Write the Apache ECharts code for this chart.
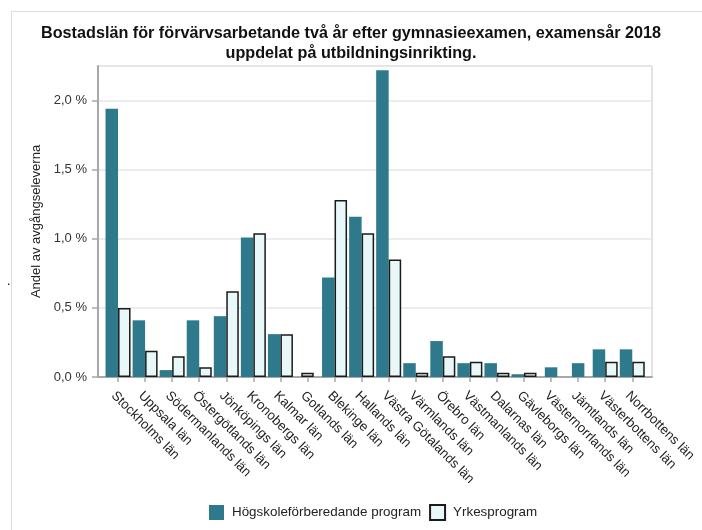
<!DOCTYPE html>
<html>
<head>
<meta charset="utf-8">
<script src="https://cdn.jsdelivr.net/npm/echarts@6/dist/echarts.min.js"></script>
<style>html,body{margin:0;padding:0;background:#fff}#c{width:702px;height:530px}</style>
</head>
<body>
<div id="c"></div>
<script>
// ---- data ----
var categories = ['Stockholms län','Uppsala län','Södermanlands län','Östergötlands län','Jönköpings län','Kronobergs län','Kalmar län','Gotlands län','Blekinge län','Hallands län','Västra Götalands län','Värmlands län','Örebro län','Västmanlands län','Dalarnas län','Gävleborgs län','Västernorrlands län','Jämtlands län','Västerbottens län','Norrbottens län'];
var hogskole = [1.94,0.41,0.05,0.41,0.44,1.01,0.31,null,0.72,1.16,2.22,0.10,0.26,0.10,0.10,0.02,0.07,0.10,0.20,0.20];
var yrke     = [0.50,0.19,0.15,0.07,0.62,1.04,0.31,0.03,1.28,1.04,0.85,0.03,0.15,0.11,0.03,0.03,null,null,0.11,0.11];
var yTicks = [0, 0.5, 1.0, 1.5, 2.0];
var seriesNames = ['Högskoleförberedande program','Yrkesprogram'];
var title = 'Bostadslän för förvärvsarbetande två år efter gymnasieexamen, examensår 2018\nuppdelat på utbildningsinrikting.';
var yName = 'Andel av avgångseleverna';

// pairs where both exist are drawn side by side; single values are centred
var hogPair = hogskole.map(function(v,i){ return (v!=null && yrke[i]!=null) ? v : null; });
var yrkPair = yrke.map(function(v,i){ return (v!=null && hogskole[i]!=null) ? v : null; });
var hogSingle = hogskole.map(function(v,i){ return (v!=null && yrke[i]==null) ? v : null; });
var yrkSingle = yrke.map(function(v,i){ return (v!=null && hogskole[i]==null) ? v : null; });

var DARK = '#2E7A8C', LIGHT = '#E8F8F8', FONT = 'Liberation Sans, Arial, sans-serif';
var YMAX = 2.25;

var chart = echarts.init(document.getElementById('c'), null, {renderer:'canvas'});
var fmt = function(v){
  for (var k=0;k<yTicks.length;k++){ if (Math.abs(yTicks[k]-v)<1e-9) return v.toFixed(1).replace('.', ',') + ' %'; }
  return '';
};
var barW = 12.5;
chart.setOption({
  animation:false,
  backgroundColor:'#fff',
  textStyle:{fontFamily:FONT},
  title:{text:title, left:'center', top:19,
    textStyle:{fontSize:16.2, fontWeight:'bold', color:'#111', lineHeight:20, fontFamily:FONT}},
  graphic:[
    {type:'rect', left:9, top:9, shape:{width:800, height:700}, style:{fill:'none', stroke:'#dcdcdc', lineWidth:1}, silent:true, z:-1},
    {type:'text', left:7, top:276, style:{text:'.', fill:'#000', font:'12px '+FONT}}
  ],
  legend:{
    left:204, top:499, itemWidth:15, itemHeight:15, itemGap:8, icon:'rect',
    textStyle:{fontSize:13.4, color:'#222', fontFamily:FONT, padding:[0,0,0,3]},
    data:seriesNames
  },
  grid:[
    {left:98, right:50, top:66, bottom:153, show:true, borderColor:'#c4c4c4', borderWidth:1},
    {left:104.5, right:56.2, top:66, bottom:153}
  ],
  xAxis:[
    {gridIndex:0, type:'value', min:0, max:1, axisLine:{show:true, lineStyle:{color:'#a8a8a8', width:2}},
      axisTick:{show:false}, axisLabel:{show:false}, splitLine:{show:false}},
    {gridIndex:1, type:'category', data:categories, position:'bottom',
      axisLine:{show:false},
      axisTick:{show:true, alignWithLabel:true, length:5, lineStyle:{color:'#a8a8a8', width:1.5}},
      axisLabel:{rotate:-45, interval:0, margin:12, verticalAlign:'top', fontSize:13.3, color:'#222', fontFamily:FONT}},
    {gridIndex:1, type:'category', data:categories, show:false}
  ],
  yAxis:[
    {gridIndex:0, type:'value', min:0, max:YMAX, interval:0.5,
      name:yName, nameLocation:'middle', nameGap:55, nameRotate:90,
      nameTextStyle:{fontSize:13, color:'#222', fontFamily:FONT},
      axisLine:{show:true, lineStyle:{color:'#a8a8a8', width:2}},
      axisTick:{show:true, length:6, lineStyle:{color:'#a8a8a8', width:1.5}},
      axisLabel:{formatter:fmt, margin:11, fontSize:13, color:'#333', fontFamily:FONT, showMaxLabel:false},
      splitLine:{show:true, lineStyle:{color:'#e6e6e6', width:1.5}}},
    {gridIndex:1, type:'value', min:0, max:YMAX, show:false, splitLine:{show:false}}
  ],
  series:[
    {name:seriesNames[0], type:'bar', xAxisIndex:1, yAxisIndex:1, data:hogPair, barWidth:barW, barGap:0,
      itemStyle:{color:DARK}},
    {name:seriesNames[1], type:'bar', xAxisIndex:1, yAxisIndex:1, data:yrkPair, barWidth:barW, barGap:0,
      itemStyle:{color:LIGHT, borderColor:'#1a1a1a', borderWidth:1.5}},
    {name:seriesNames[0], type:'bar', xAxisIndex:2, yAxisIndex:1, data:hogSingle, barWidth:barW, barGap:'-100%',
      itemStyle:{color:DARK}},
    {name:seriesNames[1], type:'bar', xAxisIndex:2, yAxisIndex:1, data:yrkSingle, barWidth:barW, barGap:'-100%',
      itemStyle:{color:LIGHT, borderColor:'#1a1a1a', borderWidth:1.5}}
  ]
});
</script>
</body>
</html>
